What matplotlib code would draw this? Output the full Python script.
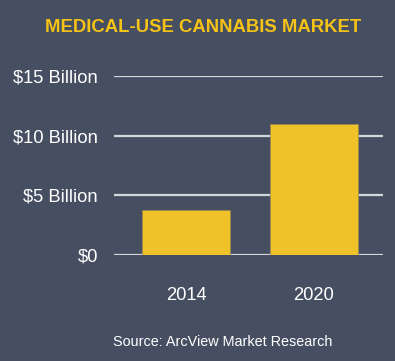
import matplotlib.pyplot as plt

plt.rcParams['font.family'] = ['Liberation Sans', 'DejaVu Sans']

years = ["2014", "2020"]
market_billion = [3.8, 11.0]
tick_values = [0, 5, 10, 15]
tick_labels = ["$0", "$5 Billion", "$10 Billion", "$15 Billion"]

BG = "#464f62"
BAR = "#f0c22a"
TITLE = "#f5c216"
GRID = "#d3d6da"

W, H = 395, 361
fig = plt.figure(figsize=(W / 100, H / 100), dpi=100, facecolor=BG)
# axes placed in pixel coords from the reference
left, right, top, bottom = 114, 383, 76, 255
ax = fig.add_axes([left / W, 1 - bottom / H, (right - left) / W, (bottom - top) / H])
ax.set_facecolor(BG)

for v in tick_values:
    ax.axhline(v, color=GRID, linewidth=1.6, zorder=0)

xs = list(range(len(years)))
ax.bar(xs, market_billion, width=0.69, color=BAR, edgecolor="#9a8a4a",
       linewidth=0.5, zorder=2)

ax.set_xlim(-0.564, 1.54)
ax.set_ylim(0, 15)
ax.set_yticks(tick_values)
ax.set_yticklabels(tick_labels)
ax.set_xticks(xs)
ax.set_xticklabels(years)
ax.tick_params(axis='y', length=0, pad=11.5, labelsize=13.2, labelcolor="white")
ax.tick_params(axis='x', length=0, pad=23, labelsize=13.2, labelcolor="white")
for s in ax.spines.values():
    s.set_visible(False)

fig.text(203 / W, 1 - 27 / H, "MEDICAL-USE CANNABIS MARKET", color=TITLE,
         fontsize=13.3, fontweight="bold", ha="center", va="center")
fig.text(223 / W, 1 - 342 / H, "Source: ArcView Market Research", color="white",
         fontsize=10.4, ha="center", va="center")

fig.savefig("out.png", dpi=100, facecolor=BG)
